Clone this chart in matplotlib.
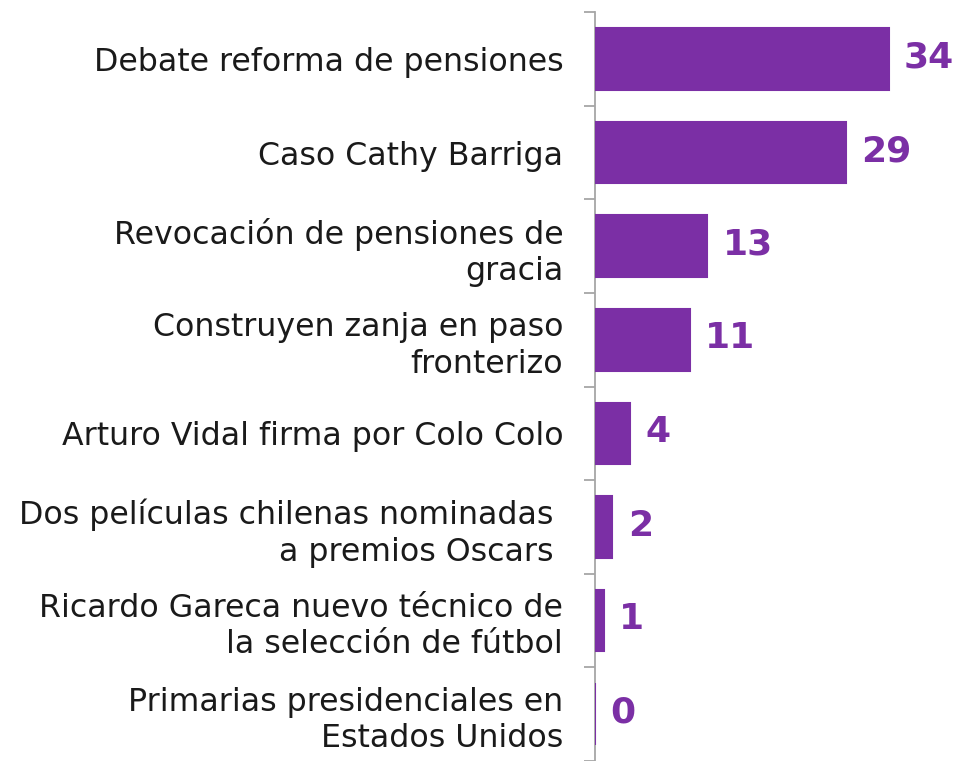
import matplotlib
matplotlib.use("Agg")
import matplotlib.pyplot as plt

# datos
temas = [
    "Debate reforma de pensiones",
    "Caso Cathy Barriga",
    "Revocación de pensiones de\ngracia",
    "Construyen zanja en paso\nfronterizo",
    "Arturo Vidal firma por Colo Colo",
    "Dos películas chilenas nominadas \na premios Oscars ",
    "Ricardo Gareca nuevo técnico de\nla selección de fútbol",
    "Primarias presidenciales en\nEstados Unidos",
]
valores = [34, 29, 13, 11, 4, 2, 1, 0]

MORADO = "#7B2FA5"
GRIS = "#A6A6A6"

fig = plt.figure(figsize=(9.63, 7.61), dpi=100)
ax = fig.add_axes([0.618, 0.0, 0.382, 0.984])

pos = list(range(len(temas)))
ax.barh(pos, valores, height=0.66, color=MORADO, edgecolor=MORADO,
        linewidth=1.5, zorder=3)

for y, v in zip(pos, valores):
    ax.annotate(str(v), (v, y), xytext=(11, 1), textcoords="offset points",
                ha="left", va="center", fontsize=26, fontweight="bold", color=MORADO)

ax.set_xlim(0, 42.6)
ax.set_ylim(len(temas) - 0.5, -0.5)

ax.set_yticks(pos)
ax.set_yticklabels(temas, fontsize=22.8, color="#1a1a1a")
for t in ax.get_yticklabels():
    t.set_linespacing(1.22)
ax.set_yticks([p - 0.5 for p in pos] + [len(temas) - 0.5], minor=True)
ax.tick_params(axis="y", which="major", length=0, pad=23)
ax.tick_params(axis="y", which="minor", length=8, color=GRIS, width=1.3)
ax.set_xticks([])

for lado in ["top", "right", "bottom"]:
    ax.spines[lado].set_visible(False)
ax.spines["left"].set_color(GRIS)
ax.spines["left"].set_linewidth(1.3)

fig.savefig("out.png", dpi=100)
